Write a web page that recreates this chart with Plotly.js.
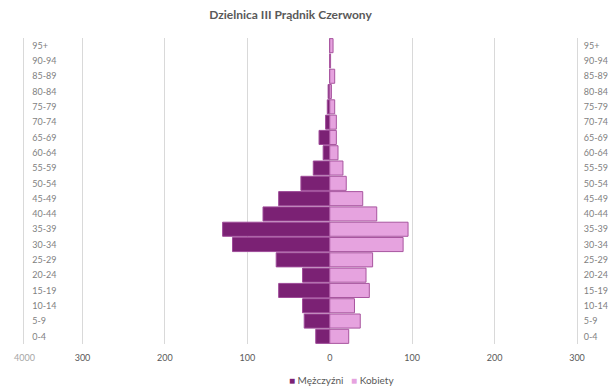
<!DOCTYPE html>
<html>
<head>
<meta charset="utf-8">
<script src="https://cdn.plot.ly/plotly-3.0.1.min.js"></script>
<style>html,body{margin:0;padding:0;background:#fff;}#chart{width:611px;height:387px;}</style>
</head>
<body>
<div id="chart"></div>
<script>
const ageGroups = ["0-4","5-9","10-14","15-19","20-24","25-29","30-34","35-39","40-44","45-49","50-54","55-59","60-64","65-69","70-74","75-79","80-84","85-89","90-94","95+"];
const men   = [17, 31, 33, 62, 33, 65, 118, 130, 81, 62, 35, 20, 8, 13, 5, 3, 2, 0, 0, 0];
const women = [23, 37, 30, 48, 44, 52, 89, 95, 57, 40, 20, 16, 10, 8, 8, 6, 2, 6, 1, 4];
const xTickVals = [-300, -200, -100, 0, 100, 200, 300];
const xTickText = ["300", "200", "100", "0", "100", "200", "300"];
const edgeTickVal = -371, edgeTickText = "4000";
const seriesNames = ["Mężczyźni", "Kobiety"];
const menColor = "#7B2174", menLine = "#9E4A98";
const womenColor = "#E6A3DF", womenLine = "#A8559F";

const font = "Lato, 'Open Sans', sans-serif";

const traces = [
  {
    type: "bar", orientation: "h", name: seriesNames[0], showlegend: false,
    y: ageGroups, x: men.map(v => -v), xaxis: "x", yaxis: "y",
    marker: {color: menColor, line: {color: menLine, width: 1}},
    hoverinfo: "skip"
  },
  {
    type: "bar", orientation: "h", name: seriesNames[1], showlegend: false,
    y: ageGroups, x: women, xaxis: "x", yaxis: "y2",
    marker: {color: womenColor, line: {color: womenLine, width: 1}},
    hoverinfo: "skip"
  }
];

const yCommon = {
  type: "category", categoryorder: "array", categoryarray: ageGroups,
  range: [-0.5, ageGroups.length - 0.5],
  showgrid: false, zeroline: false,
  showline: true, linecolor: "#d9d9d9", linewidth: 1,
  tickfont: {family: font, size: 9, color: "#7f7f7f"}
};

const mT = 38, mB = 43, H = 387, W = 611, mL = 24, mR = 34;
const plotH = H - mT - mB, plotW = W - mL - mR;

const legendText =
  '<span style="color:' + menColor + '">■</span>&nbsp;' + seriesNames[0] +
  '&nbsp;&nbsp;&nbsp;' +
  '<span style="color:' + womenColor + '">■</span>&nbsp;' + seriesNames[1];

const layout = {
  width: W, height: H,
  margin: {l: mL, r: mR, t: mT, b: mB, autoexpand: false},
  paper_bgcolor: "#fff", plot_bgcolor: "#fff",
  barmode: "overlay", bargap: 0.08,
  showlegend: false,
  title: {
    text: "<b>Dzielnica III Prądnik Czerwony</b>",
    font: {family: font, size: 12, color: "#595959"},
    xref: "container", x: 0.4755, xanchor: "center",
    yref: "container", y: 0.961, yanchor: "middle"
  },
  xaxis: {
    range: [-371, 300], tickmode: "array", tickvals: xTickVals, ticktext: xTickText,
    showgrid: true, gridcolor: "#d9d9d9", gridwidth: 1, zeroline: false, showline: false,
    tickfont: {family: font, size: 9, color: "#595959"}, ticks: "outside", ticklen: 5, tickcolor: "rgba(0,0,0,0)"
  },
  yaxis: Object.assign({}, yCommon, {side: "left", ticklabelposition: "inside", ticks: "inside", ticklen: 7, tickcolor: "rgba(0,0,0,0)"}),
  yaxis2: Object.assign({}, yCommon, {side: "right", overlaying: "y", anchor: "x", ticks: "outside", ticklen: 4, tickcolor: "rgba(0,0,0,0)"}),
  annotations: [
    {
      x: edgeTickVal, xref: "x", yref: "paper", y: (H - mB - 357) / plotH, showarrow: false,
      text: edgeTickText, font: {family: font, size: 9, color: "#a6a6a6"},
      xanchor: "center", yanchor: "middle"
    },
    {
      xref: "paper", x: (341.5 - mL) / plotW, yref: "paper", y: (H - mB - 380) / plotH,
      showarrow: false, text: legendText, font: {family: font, size: 10, color: "#595959"},
      xanchor: "center", yanchor: "middle"
    }
  ]
};

Plotly.newPlot("chart", traces, layout, {displayModeBar: false, staticPlot: true});
</script>
</body>
</html>
